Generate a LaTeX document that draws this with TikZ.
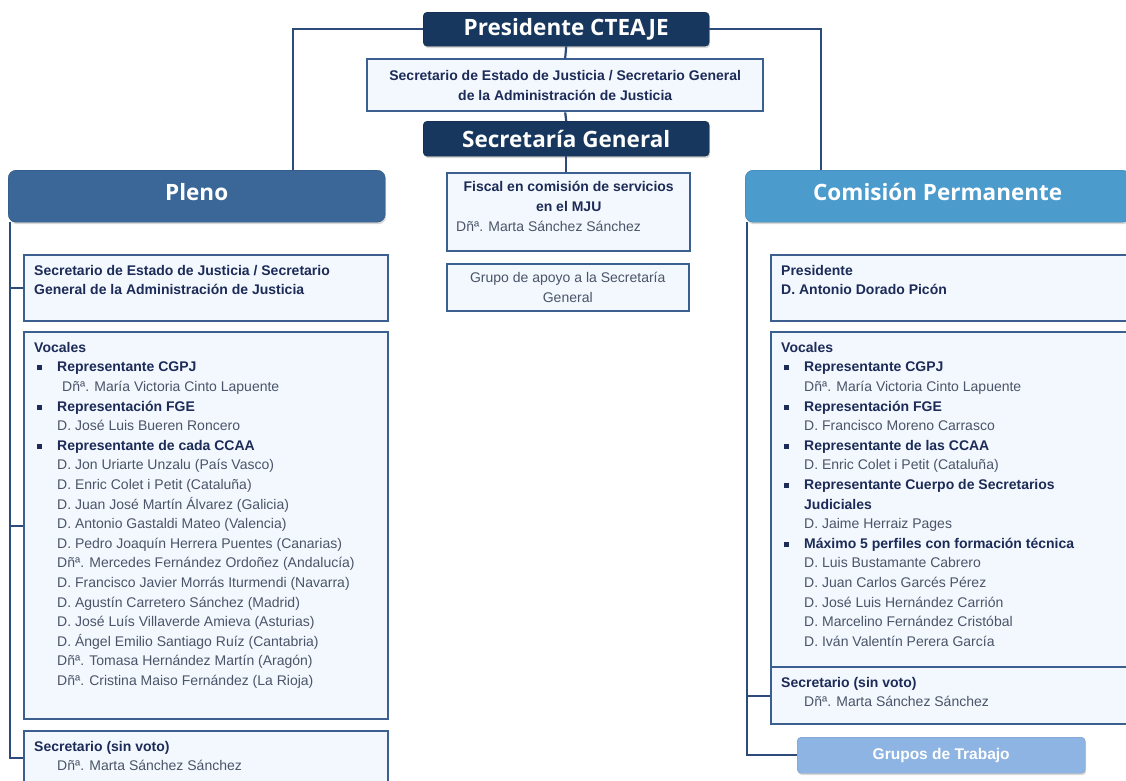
\documentclass[tikz,border=0pt]{standalone}
\usepackage{fontspec}
\setmainfont{Liberation Sans}
\newfontfamily\hdrfont{Open Sans}
\usetikzlibrary{positioning,shadows,calc}

\definecolor{navy}{HTML}{17375E}
\definecolor{plenoblue}{HTML}{3A6698}
\definecolor{comblue}{HTML}{4B9BCD}
\definecolor{grupblue}{HTML}{8DB4E2}
\definecolor{boxline}{HTML}{3B5F8E}
\definecolor{boxfill}{HTML}{F3F8FE}
\definecolor{linkcol}{HTML}{2C4A7A}
\definecolor{txtdark}{HTML}{1C2B57}
\definecolor{txtgray}{HTML}{4B5468}

\newcommand\bul{\makebox[23pt][l]{\hspace{3pt}\rule[1.5pt]{5pt}{5pt}}}
\newcommand\ind{\hspace*{23pt}}
\newcommand\hd[1]{{\bfseries\color{txtdark}#1}}
\newcommand\nm[1]{\ind{\color{txtgray}#1}}

\begin{document}
\begin{tikzpicture}[x=1pt,y=-1pt,
		hdr/.style={rectangle,rounded corners=4pt,fill=navy,draw=navy!70!black,text=white,
			font=\hdrfont\bfseries\fontsize{22.5}{26}\selectfont,anchor=north west,inner sep=0pt,
			drop shadow={shadow xshift=1pt,shadow yshift=-2pt,opacity=.3}},
		grp/.style={hdr,rounded corners=8pt},
		box/.style={rectangle,draw=boxline,line width=2.4pt,fill=boxfill,anchor=north west,inner sep=0pt},
		txt/.style={anchor=north west,inner sep=0pt,align=left,font=\fontsize{14}{19.6}\selectfont},
		link/.style={draw=linkcol,line width=2.2pt}]
\useasboundingbox[fill=white] (0,0) rectangle (1126,780);

% centre column
\node[hdr,minimum width=286,minimum height=34] (pres) at (423,12) {Presidente CTEAJE};
\node[box,minimum width=396,minimum height=52,align=center,font=\fontsize{14}{19.6}\selectfont] (sedj) at (366,58)
	{\hd{Secretario de Estado de Justicia / Secretario General}\\\hd{de la Administración de Justicia}};
\node[hdr,minimum width=286,minimum height=35] (sg) at (423,121) {Secretaría General};
\node[box,minimum width=243,minimum height=78] (fiscal) at (446,172) {};
\node[txt,anchor=north,align=center] (fiscalt) at ([yshift=-9pt]fiscal.north) {\hd{Fiscal en comisión de servicios}\\\hd{en el MJU}};
\node[txt,anchor=north west] (fiscaln) at ([xshift=10pt,yshift=-49pt]fiscal.north west) {{\color{txtgray}Dñª. Marta Sánchez Sánchez}};
\node[box,line width=1.5pt,minimum width=242,minimum height=47,align=center,text=txtgray,font=\fontsize{14}{19.6}\selectfont] (apoyo) at (446,263)
	{Grupo de apoyo a la Secretaría\\General};

% Pleno
\node[grp,fill=plenoblue,draw=plenoblue!80!black,minimum width=377,minimum height=52,text depth=8pt] (pleno) at (8,170) {Pleno};
\node[box,minimum width=364,minimum height=66] (psec) at (23,254) {};
\node[txt] (psect) at ([xshift=11pt,yshift=-11pt]psec.north west)
	{\hd{Secretario de Estado de Justicia / Secretario}\\\hd{General de la Administración de Justicia}};
\node[box,minimum width=364,minimum height=387] (pvoc) at (23,331) {};
\node[txt] (pvoct) at ([xshift=11pt,yshift=-11pt]pvoc.north west)
	{\hd{Vocales}\\
	\hd{\bul Representante CGPJ}\\
	\nm{\hspace*{5pt}Dñª. María Victoria Cinto Lapuente}\\
	\hd{\bul Representación FGE}\\
	\nm{D. José Luis Bueren Roncero}\\
	\hd{\bul Representante de cada CCAA}\\
	\nm{D. Jon Uriarte Unzalu (País Vasco)}\\
	\nm{D. Enric Colet i Petit (Cataluña)}\\
	\nm{D. Juan José Martín Álvarez (Galicia)}\\
	\nm{D. Antonio Gastaldi Mateo (Valencia)}\\
	\nm{D. Pedro Joaquín Herrera Puentes (Canarias)}\\
	\nm{Dñª. Mercedes Fernández Ordoñez (Andalucía)}\\
	\nm{D. Francisco Javier Morrás Iturmendi (Navarra)}\\
	\nm{D. Agustín Carretero Sánchez (Madrid)}\\
	\nm{D. José Luís Villaverde Amieva (Asturias)}\\
	\nm{D. Ángel Emilio Santiago Ruíz (Cantabria)}\\
	\nm{Dñª. Tomasa Hernández Martín (Aragón)}\\
	\nm{Dñª. Cristina Maiso Fernández (La Rioja)}};
\node[box,minimum width=364,minimum height=54] (psin) at (23,730) {};
\node[txt] (psint) at ([xshift=11pt,yshift=-11pt]psin.north west)
	{\hd{Secretario (sin voto)}\\\nm{Dñª. Marta Sánchez Sánchez}};

% Comision Permanente
\node[grp,fill=comblue,draw=comblue!80!black,minimum width=385,minimum height=52,text depth=8pt] (com) at (745,170) {Comisión Permanente};
\node[box,minimum width=370,minimum height=66] (cpres) at (770,254) {};
\node[txt] (cprest) at ([xshift=11pt,yshift=-11pt]cpres.north west)
	{\hd{Presidente}\\\hd{D. Antonio Dorado Picón}};
\node[box,minimum width=370,minimum height=335] (cvoc) at (770,331) {};
\node[txt] (cvoct) at ([xshift=11pt,yshift=-11pt]cvoc.north west)
	{\hd{Vocales}\\
	\hd{\bul Representante CGPJ}\\
	\nm{Dñª. María Victoria Cinto Lapuente}\\
	\hd{\bul Representación FGE}\\
	\nm{D. Francisco Moreno Carrasco}\\
	\hd{\bul Representante de las CCAA}\\
	\nm{D. Enric Colet i Petit (Cataluña)}\\
	\hd{\bul Representante Cuerpo de Secretarios}\\
	\hd{\ind Judiciales}\\
	\nm{D. Jaime Herraiz Pages}\\
	\hd{\bul Máximo 5 perfiles con formación técnica}\\
	\nm{D. Luis Bustamante Cabrero}\\
	\nm{D. Juan Carlos Garcés Pérez}\\
	\nm{D. José Luis Hernández Carrión}\\
	\nm{D. Marcelino Fernández Cristóbal}\\
	\nm{D. Iván Valentín Perera García}};
\node[box,minimum width=370,minimum height=57] (csin) at (770,666) {};
\node[txt] (csint) at ([xshift=11pt,yshift=-11pt]csin.north west)
	{\hd{Secretario (sin voto)}\\\nm{Dñª. Marta Sánchez Sánchez}};
\node[grp,fill=grupblue,draw=grupblue!85!black,rounded corners=4pt,minimum width=288,minimum height=36,
	font=\bfseries\fontsize{15.5}{18}\selectfont] (grupos) at (797,737) {Grupos de Trabajo};

% connectors
\draw[link] (pres.west) -| ([xshift=96pt]pleno.north);
\draw[link] (pres.east) -| ([xshift=-117pt]com.north);
\draw[link] (pres.south) -- (sedj.north);
\draw[link] (sedj.south) -- (sg.north);
\draw[link] (sg.south) -- (sg.south |- fiscal.north);

\coordinate (lspine) at ([xshift=2pt]pleno.south west);
\draw[link] (lspine) |- (psin.west);
\draw[link] (lspine |- psec.west) -- (psec.west);
\draw[link] (lspine |- pvoc.west) -- (pvoc.west);

\coordinate (rspine) at ([xshift=2pt]com.south west);
\draw[link] (rspine) |- (grupos.west);
\draw[link] (rspine |- csin.west) -- (csin.west);
\end{tikzpicture}
\end{document}
